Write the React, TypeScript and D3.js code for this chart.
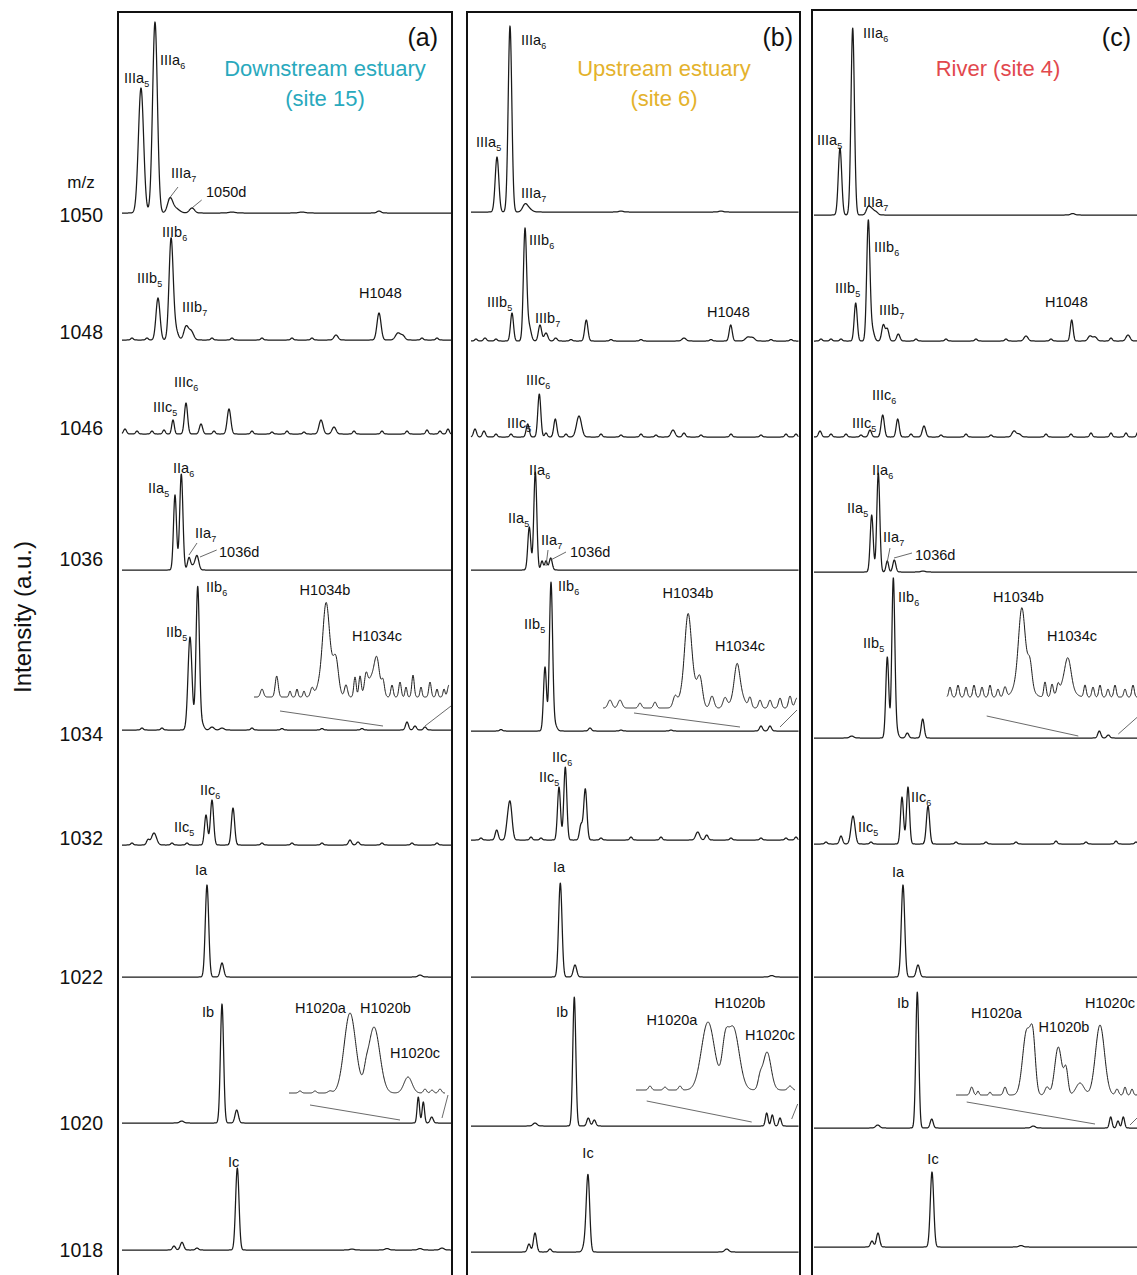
import React from 'react';
import * as d3 from 'd3';

type Pk = [number, number, number];
type Lbl = [number, number, number, string, string, string];
type Ldr = [number, number, number, number, number];
type Inset = { t: number; from: number; to: number; lift: number; pk: Pk[] };

// m/z axis
const mzLabels = ['1050', '1048', '1046', '1036', '1034', '1032', '1022', '1020', '1018'];
const mzLabelLevels = [1060, 943, 847, 716, 541, 437, 298, 152, 25];

const panelTags = ['(a)', '(b)', '(c)'];
const siteTitles = [['Downstream estuary', '(site 15)'], ['Upstream estuary', '(site 6)'], ['River (site 4)']];
const siteColors = ['#29a9bd', '#e4b22c', '#e2484d'];

// stacking offsets (a.u.) of each trace, per panel
const offsetsA = [1062, 935, 841, 705, 545, 430, 298, 152, 25];
const offsetsB = [1063, 934, 838, 705, 544, 435, 298, 149, 23];
const offsetsC = [1060, 934, 838, 703, 537, 431, 298, 147, 28];

// peaks [retention, height, width] per trace
const peaksA: Pk[][] = [
  [[19, 125, 2.6], [33, 191, 2.4], [48, 13, 2.5], [53, 5, 4], [70, 5, 2.5], [257, 2, 2], [110, 1, 3], [180, 1, 3]],
  [[10, 2, 1.3], [25, 2, 1.3], [36, 42, 2], [49, 93, 2], [52, 15, 3], [64, 13, 2.2], [69, 9, 2.5], [90, 2, 1.3], [110, 2, 1.3], [140, 2, 1.3], [170, 2, 1.3], [190, 2, 1.3], [214, 5, 2], [257, 27, 2], [276, 7, 2.5], [281, 4, 2], [300, 2, 1.3], [315, 2, 1.3]],
  [[3, 5, 1.5], [15, 3, 1.3], [30, 3, 1.3], [42, 4, 1.3], [51, 14, 1.3], [64, 31, 1.6], [79, 10, 1.6], [92, 3, 1.3], [107, 25, 1.8], [130, 3, 1.3], [150, 2, 1.3], [165, 3, 1.3], [182, 2, 1.3], [199, 14, 2], [212, 7, 2], [232, 3, 1.3], [260, 3, 1.3], [285, 3, 1.3], [305, 4, 1.3], [318, 3, 1.3], [326, 5, 1.3]],
  [[53, 75, 1.5], [59.3, 96, 1.6], [67, 12, 1.5], [71, 4, 2], [75, 14, 1.8]],
  [[20, 2, 1.3], [40, 2, 1.3], [68, 93, 2], [75.7, 143, 1.7], [80, 6, 2], [90, 3, 2], [100, 2, 2], [130, 2, 1.3], [160, 1.5, 1.3], [200, 1.5, 1.3], [240, 1.5, 1.3], [285, 8, 1.5], [293, 4, 1.5], [303, 3, 1.5]],
  [[10, 2, 1.3], [26, 5, 1.5], [32, 12, 2.5], [50, 2, 1.3], [65, 2, 1.3], [84, 30, 1.5], [90, 45, 1.6], [111, 37, 1.6], [140, 2, 1.3], [170, 2, 1.3], [200, 2, 1.3], [228, 5, 1.5], [236, 3, 1.5], [260, 2, 1.3], [290, 2, 1.3], [315, 2, 1.3]],
  [[85, 92, 1.7], [100, 14, 1.7], [298, 2, 2]],
  [[59.7, 2, 2], [100, 119, 1.6], [114.7, 13, 1.7], [296.3, 26, 1.2], [301.3, 21, 1.2], [309.7, 6, 1.5]],
  [[52, 4, 1.5], [60, 7.7, 1.7], [75, 2, 1.5], [115.3, 82, 1.7], [230, 1, 2], [265, 1.5, 2], [298, 1.5, 2], [320, 2, 2]],
];
const peaksB: Pk[][] = [
  [[26, 55, 1.8], [39, 186, 1.8], [54, 7, 2.5], [58, 3, 3], [150, 1, 2], [250, 1, 2]],
  [[5, 2, 1.3], [14, 3, 1.5], [25, 2, 1.3], [41, 28, 1.5], [54, 111, 1.6], [58, 15, 2], [69, 16, 1.6], [75, 8, 1.8], [84.7, 3, 1.5], [100, 1.5, 1.3], [115.3, 21, 1.6], [140, 1.5, 1.3], [170, 1.5, 1.3], [213, 3, 2], [240, 1.5, 1.3], [259.7, 16, 1.5], [277, 4, 2.5], [282, 3, 2], [300, 1.5, 1.3], [320, 1.5, 1.3]],
  [[4, 8, 1.5], [13, 6, 1.5], [25, 3, 1.3], [40, 3, 1.3], [56.7, 13, 1.5], [68.3, 43, 1.5], [75, 4, 1.3], [84.3, 18, 1.5], [95, 3, 1.3], [108, 21, 2.5], [130, 3, 1.3], [150, 2, 1.3], [170, 3, 1.3], [185, 2, 1.3], [202, 7, 2], [213, 4, 1.5], [230, 2, 1.3], [260, 3, 1.3], [290, 2, 1.3], [315, 3, 1.3], [325, 3, 1.3]],
  [[58.3, 43, 1.5], [64.3, 98, 1.5], [71, 9, 1.2], [75, 9, 1.3], [79.7, 12, 1.5]],
  [[30, 1.5, 1.3], [74, 64, 1.5], [80, 148, 1.6], [84, 6, 2], [119, 3, 1.5], [150, 1, 1.3], [200, 1, 1.3], [290, 5, 1.5], [299, 5, 1.5]],
  [[10, 2, 1.3], [25.7, 10, 1.5], [36, 8, 1.5], [39, 38, 2], [60, 3, 1.3], [70, 2, 1.3], [88, 53, 1.5], [94.3, 73, 1.5], [110, 15, 1.5], [114.3, 51, 1.6], [130, 2, 1.3], [160, 3, 1.3], [190, 3, 1.3], [226.7, 8, 2], [235.7, 5, 1.5], [260, 2, 1.3], [290, 2, 1.3], [315, 2, 1.3], [325, 3, 1.3]],
  [[89.3, 94, 1.7], [104, 12, 1.7], [300.7, 1.5, 2]],
  [[64, 3, 2], [103.3, 129, 1.5], [117.3, 8, 1.5], [123.3, 6, 1.5], [295.7, 13, 1.3], [301.3, 11, 1.3], [309, 8, 1.3]],
  [[58, 8, 1.5], [64, 19, 1.6], [79, 3, 1.5], [114, 8, 2], [117, 75, 1.7], [255.7, 3, 2]],
];
const peaksC: Pk[][] = [
  [[24, 67, 1.7], [36.7, 187, 1.7], [52.3, 8, 2], [56, 5, 2], [60, 3, 2], [256.7, 1.5, 2]],
  [[5, 2, 1.3], [15, 2, 1.3], [25, 2, 1.3], [39.7, 38, 1.5], [52.3, 119, 1.6], [56, 12, 2], [67.3, 16, 1.6], [71.3, 12, 1.6], [82.3, 7, 1.6], [100, 2, 1.3], [130, 2, 1.3], [160, 2, 1.3], [190, 2, 1.3], [210, 5, 2], [235, 2, 1.3], [255.7, 21, 1.4], [274, 5, 2], [279, 4, 2], [295, 3, 1.3], [312, 6, 2], [325, 3, 1.3]],
  [[4, 6, 1.5], [15, 3, 1.3], [30, 3, 1.3], [45, 2, 1.3], [54, 7, 1.5], [66.7, 22, 1.6], [81.7, 18, 1.5], [95, 3, 1.3], [108, 11, 1.7], [125, 2, 1.3], [150, 3, 1.3], [175, 2, 1.3], [198, 6, 2], [203, 3, 2], [230, 3, 1.3], [255, 3, 1.3], [275, 4, 1.3], [295, 4, 1.3], [310, 4, 1.3], [322, 5, 1.3]],
  [[55.7, 57, 1.5], [62.3, 99, 1.5], [71.3, 11, 1.3], [78.3, 12, 1.5], [107, 1, 2]],
  [[35.7, 2, 2], [71.3, 81, 1.5], [77.3, 157, 1.5], [80, 8, 2], [91.3, 5, 1.5], [106.7, 19, 1.5], [283.3, 7, 1.5], [292.3, 3, 1.5]],
  [[10, 2, 1.3], [25, 8, 1.5], [37, 28, 2], [55, 2, 1.3], [86, 47, 1.5], [92, 57, 1.5], [112, 38, 1.6], [140, 2, 1.3], [170, 2, 1.3], [200, 2, 1.3], [240, 3, 1.3], [270, 2, 1.3], [300, 3, 1.3], [320, 2, 1.3]],
  [[87, 92, 1.7], [102, 12, 1.7]],
  [[61.7, 3, 2], [101.3, 136, 1.5], [115.7, 9, 1.5], [217.3, 2, 2], [294.7, 11, 1.3], [302, 7, 1.3], [307.3, 11, 1.3]],
  [[56, 6, 1.5], [62, 14, 1.6], [116, 75, 1.7], [205, 1.5, 2]],
];

// magnified insets
const insetsA: Inset[] = [
  { t: 4, from: 132, to: 327, lift: 33, pk: [[140, 8, 1.5], [154.7, 21, 1.5], [168, 6, 1], [175, 8, 1], [182, 6, 1], [190, 8, 1.5], [204, 55, 3], [205, 40, 6], [214, 28, 2.5], [224, 12, 1.5], [233, 20, 1.2], [238, 20, 1.2], [244, 15, 1.5], [250, 20, 5], [255, 28, 2.5], [261, 15, 1.5], [270, 12, 1.2], [278, 15, 1.2], [284, 10, 1], [291, 22, 1.2], [299, 10, 1], [308, 15, 1.2], [315, 8, 1], [322, 8, 1], [327, 12, 1.5]] },
  { t: 7, from: 167, to: 323, lift: 30, pk: [[178, 2, 1.5], [193, 2, 1.5], [208, 2, 2], [228, 80, 5.8], [244, 8, 2], [252, 66, 5.8], [286, 16, 4], [303, 4, 1.5], [310, 3, 1.5], [318, 4, 1.5]] },
];
const insetsB: Inset[] = [
  { t: 4, from: 132, to: 326, lift: 23, pk: [[139, 8, 2], [149, 8, 2], [169, 5, 1.5], [184, 6, 1.5], [204, 10, 2], [217, 55, 3], [218, 40, 6], [229, 25, 2.5], [241, 12, 2], [254, 10, 2], [266, 25, 2.5], [267, 20, 5], [279, 10, 1.5], [289, 8, 1.5], [299, 8, 1.5], [309, 10, 1.5], [319, 12, 1.5], [326, 10, 2]] },
  { t: 7, from: 165, to: 324, lift: 36, pk: [[179, 4, 1.5], [194, 3, 1.5], [209, 4, 1.5], [237, 68, 6.5], [254, 30, 3], [262, 63, 6], [289, 10, 2], [296, 38, 4], [319, 4, 2]] },
];
const insetsC: Inset[] = [
  { t: 4, from: 131, to: 330, lift: 41, pk: [[134, 10, 1.2], [142, 12, 1.2], [150, 10, 1.2], [158, 12, 1.2], [166, 10, 1.2], [174, 12, 1.2], [182, 8, 1.2], [189, 10, 1.5], [205.7, 55, 3], [207, 35, 6], [214, 20, 2], [229, 15, 1.2], [236, 12, 1.2], [242, 8, 1.2], [250, 15, 6], [252, 25, 3], [269, 12, 1.2], [277, 10, 1.2], [284, 12, 1.2], [292, 8, 1.2], [299, 12, 1.2], [309, 8, 1.2], [317, 12, 1.2], [326, 8, 1.2]] },
  { t: 7, from: 140, to: 330, lift: 33, pk: [[155.7, 8, 1.5], [162, 4, 1], [174, 3, 1], [189, 8, 1.5], [210.7, 64, 4], [217, 48, 2.5], [231, 8, 2], [242.3, 48, 3.5], [250, 25, 2], [264, 12, 4], [284, 70, 4.5], [301, 6, 1.5], [309, 8, 1.2], [316, 6, 1.2], [324, 6, 1.2]] },
];

// labels [trace, retention, height, text, subscript, anchor]
const labelsA: Lbl[] = [
  [0, 2, 130, 'IIIa', '5', 'start'], [0, 38, 148, 'IIIa', '6', 'start'], [0, 49, 35, 'IIIa', '7', 'start'], [0, 84, 16, '1050d', '', 'start'],
  [1, 15, 57, 'IIIb', '5', 'start'], [1, 40, 103, 'IIIb', '6', 'start'], [1, 60, 28, 'IIIb', '7', 'start'], [1, 237, 42, 'H1048', '', 'start'],
  [2, 31, 22, 'IIIc', '5', 'start'], [2, 52, 47, 'IIIc', '6', 'start'],
  [3, 26, 77, 'IIa', '5', 'start'], [3, 51, 97, 'IIa', '6', 'start'], [3, 73, 32, 'IIa', '7', 'start'], [3, 97, 13, '1036d', '', 'start'],
  [4, 44, 93, 'IIb', '5', 'start'], [4, 84, 138, 'IIb', '6', 'start'], [4, 203, 135, 'H1034b', '', 'middle'], [4, 255, 89, 'H1034c', '', 'middle'],
  [5, 52, 13, 'IIc', '5', 'start'], [5, 78, 50, 'IIc', '6', 'start'],
  [6, 79, 102, 'Ia', '', 'middle'],
  [7, 80, 106, 'Ib', '', 'start'], [7, 173, 110, 'H1020a', '', 'start'], [7, 238, 110, 'H1020b', '', 'start'], [7, 268, 65, 'H1020c', '', 'start'],
  [8, 106, 83, 'Ic', '', 'start'],
];
const labelsB: Lbl[] = [
  [0, 5, 65, 'IIIa', '5', 'start'], [0, 50, 167, 'IIIa', '6', 'start'], [0, 50, 14, 'IIIa', '7', 'start'],
  [1, 16, 34, 'IIIb', '5', 'start'], [1, 58, 96, 'IIIb', '6', 'start'], [1, 64, 18, 'IIIb', '7', 'start'], [1, 236, 24, 'H1048', '', 'start'],
  [2, 36, 9, 'IIIc', '5', 'start'], [2, 55, 52, 'IIIc', '6', 'start'],
  [3, 37, 47, 'IIa', '5', 'start'], [3, 58, 95, 'IIa', '6', 'start'], [3, 70, 25, 'IIa', '7', 'start'], [3, 99, 13, '1036d', '', 'start'],
  [4, 53, 102, 'IIb', '5', 'start'], [4, 87, 140, 'IIb', '6', 'start'], [4, 217, 133, 'H1034b', '', 'middle'], [4, 269, 80, 'H1034c', '', 'middle'],
  [5, 68, 58, 'IIc', '5', 'start'], [5, 81, 78, 'IIc', '6', 'start'],
  [6, 88, 105, 'Ia', '', 'middle'],
  [7, 91, 109, 'Ib', '', 'middle'], [7, 201, 101, 'H1020a', '', 'middle'], [7, 269, 118, 'H1020b', '', 'middle'], [7, 299, 86, 'H1020c', '', 'middle'],
  [8, 117, 94, 'Ic', '', 'middle'],
];
const labelsC: Lbl[] = [
  [0, 1, 70, 'IIIa', '5', 'start'], [0, 47, 177, 'IIIa', '6', 'start'], [0, 47, 8, 'IIIa', '7', 'start'],
  [1, 19, 48, 'IIIb', '5', 'start'], [1, 58, 89, 'IIIb', '6', 'start'], [1, 63, 26, 'IIIb', '7', 'start'], [1, 229, 34, 'H1048', '', 'start'],
  [2, 36, 9, 'IIIc', '5', 'start'], [2, 56, 37, 'IIIc', '6', 'start'],
  [3, 31, 59, 'IIa', '5', 'start'], [3, 56, 97, 'IIa', '6', 'start'], [3, 67, 30, 'IIa', '7', 'start'], [3, 99, 12, '1036d', '', 'start'],
  [4, 47, 90, 'IIb', '5', 'start'], [4, 82, 136, 'IIb', '6', 'start'], [4, 202.5, 136, 'H1034b', '', 'middle'], [4, 256, 97, 'H1034c', '', 'middle'],
  [5, 42, 12, 'IIc', '5', 'start'], [5, 95, 42, 'IIc', '6', 'start'],
  [6, 82, 100, 'Ia', '', 'middle'],
  [7, 87, 120, 'Ib', '', 'middle'], [7, 180.5, 110, 'H1020a', '', 'middle'], [7, 248, 96, 'H1020b', '', 'middle'], [7, 294, 120, 'H1020c', '', 'middle'],
  [8, 117, 83, 'Ic', '', 'middle'],
];

// leader lines [trace, rt1, h1, rt2, h2]
const leadersA: Ldr[] = [[0, 46, 13, 56, 26], [0, 68.7, 4, 79.7, 13], [3, 67, 15, 75, 27], [3, 78, 13, 94.7, 20], [4, 158, 19, 261, 4], [4, 303, 4, 329, 24], [7, 188, 18, 278, 3], [7, 320, 5, 326, 28]];
const leadersB: Ldr[] = [[3, 75, 4, 77, 20], [3, 79.7, 10, 95, 18], [4, 163, 18, 269, 4], [4, 309, 4, 326, 21], [7, 175.7, 25, 280.7, 4], [7, 320.7, 7, 326.7, 22]];
const leadersC: Ldr[] = [[3, 71, 9, 74, 24], [3, 78, 14, 96, 19], [4, 170.7, 22, 262.3, 2], [4, 302.3, 4, 326, 25], [7, 150.7, 26, 279, 4], [7, 314, 3, 325, 14]];

const panels = [
  { offsets: offsetsA, peaks: peaksA, insets: insetsA, labels: labelsA, leaders: leadersA },
  { offsets: offsetsB, peaks: peaksB, insets: insetsB, labels: labelsB, leaders: leadersB },
  { offsets: offsetsC, peaks: peaksC, insets: insetsC, labels: labelsC, leaders: leadersC },
];

// layout
const W = 1137, H = 1275;
const FONT = 'Liberation Sans, Arial, Helvetica, sans-serif';
const panelRange: [number, number][] = [[122, 452], [471, 801], [816, 1146]];
const frameX: [number, number][] = [[118, 452], [467, 800], [812, 1150]];
const frameTop = [12, 12, 10];
const traceEnd = [329.5, 327.5, 330];
const traceStart = [0, 0, -2];
const titleX = [325, 664, 998];
const tagX = [438, 793, 1131];

const signal = (pk: Pk[], r: number) =>
  pk.reduce((s, [c, h, w]) => s + h * Math.exp(-((r - c) * (r - c)) / (2 * w * w)), 0);

const y = d3.scaleLinear().domain([0, H]).range([H, 0]);

function Panel({ i }: { i: number }) {
  const p = panels[i];
  const x = d3.scaleLinear().domain([0, 330]).range(panelRange[i]);
  const line = d3.line<[number, number]>().x((d) => x(d[0])).y((d) => y(d[1]));
  const grid = d3.range(traceStart[i], traceEnd[i] + 0.001, 0.25);
  const tags = siteTitles[i];
  return (
    <g>
      <rect x={frameX[i][0]} y={frameTop[i]} width={frameX[i][1] - frameX[i][0]} height={H + 20} fill="none" stroke="#111" strokeWidth={2} />
      {p.peaks.map((pk, t) => (
        <path key={'tr' + t} d={line(grid.map((r) => [r, p.offsets[t] + signal(pk, r)] as [number, number])) || ''} fill="none" stroke="#1a1a1a" strokeWidth={1.25} strokeLinejoin="round" />
      ))}
      {p.insets.map((ins, k) => {
        const g = d3.range(ins.from, ins.to + 0.001, 0.25);
        const base = p.offsets[ins.t] + ins.lift;
        return <path key={'in' + k} d={line(g.map((r) => [r, base + signal(ins.pk, r)] as [number, number])) || ''} fill="none" stroke="#1a1a1a" strokeWidth={1} strokeLinejoin="round" />;
      })}
      {p.leaders.map(([t, r1, h1, r2, h2], k) => (
        <line key={'ld' + k} x1={x(r1)} y1={y(p.offsets[t] + h1)} x2={x(r2)} y2={y(p.offsets[t] + h2)} stroke="#444" strokeWidth={0.8} />
      ))}
      {p.labels.map(([t, r, h, txt, sub, anchor], k) => (
        <text key={'lb' + k} x={x(r)} y={y(p.offsets[t] + h)} fontSize={14.5} textAnchor={anchor} fill="#111" fontFamily={FONT}>
          {txt}
          {sub ? <tspan fontSize={9} dy={3.5}>{sub}</tspan> : null}
        </text>
      ))}
      <text x={tagX[i]} y={46} fontSize={25} textAnchor="end" fill="#111" fontFamily={FONT}>{panelTags[i]}</text>
      {tags.map((s, k) => (
        <text key={'ti' + k} x={titleX[i]} y={76 + k * 30} fontSize={22} textAnchor="middle" fill={siteColors[i]} fontFamily={FONT}>{s}</text>
      ))}
    </g>
  );
}

export default function App() {
  return (
    <svg width={W} height={H} style={{ position: 'absolute', left: 0, top: 0, background: '#fff' }}>
      <rect x={0} y={0} width={W} height={H} fill="#fff" />
      <text x={81} y={188} fontSize={17} textAnchor="middle" fill="#111" fontFamily={FONT}>m/z</text>
      {mzLabels.map((m, k) => (
        <text key={m} x={103} y={y(mzLabelLevels[k]) + 7} fontSize={19.5} textAnchor="end" fill="#111" fontFamily={FONT}>{m}</text>
      ))}
      <text transform="translate(31,617) rotate(-90)" fontSize={24} textAnchor="middle" fill="#111" fontFamily={FONT}>Intensity (a.u.)</text>
      {[0, 1, 2].map((i) => <Panel key={i} i={i} />)}
    </svg>
  );
}
